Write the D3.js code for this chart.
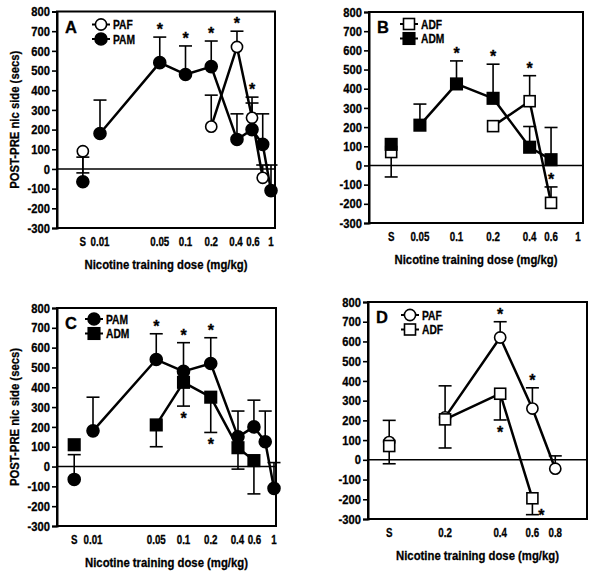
<!DOCTYPE html>
<html>
<head>
<meta charset="utf-8">
<script src="https://cdn.jsdelivr.net/npm/d3@7"></script>
<style>
  body { margin: 0; background: #fff; }
  text { font-family: "Liberation Sans", Arial, sans-serif; font-weight: bold; fill: #000; stroke: #000; stroke-width: 0.3; }
</style>
</head>
<body>
<svg id="fig" width="600" height="574"></svg>
<script>
// group means and SEM, "S" = saline
var pafDose = ["S", 0.2, 0.4, 0.6, 0.8];
var pafMean = [90, 215, 620, 260, -45];
var pafSem  = [110, 160, 80, 105, 65];

var pamDose = ["S", 0.01, 0.05, 0.1, 0.2, 0.4, 0.6, 0.8, 1];
var pamMean = [-65, 180, 540, 480, 520, 150, 200, 125, -110];
var pamSem  = [125, 170, 130, 145, 130, 130, 135, 155, 130];

var adfDose = ["S", 0.2, 0.4, 0.6];
var adfMean = [70, 205, 335, -195];
var adfSem  = [130, 145, 133, 83];

var admDose = ["S", 0.05, 0.1, 0.2, 0.4, 0.6];
var admMean = [110, 210, 425, 350, 95, 30];
var admSem  = [0, 110, 120, 178, 108, 168];

// which way the error bar is drawn in each panel (1 up, -1 down, 0 none)
var dirA_paf = [-1, 1, 1, 1, 1];
var dirA_pam = [1, 1, 1, 1, 1, 1, 1, 1, 1];
var dirB_adf = [-1, 0, 1, 1];
var dirB_adm = [0, 1, 1, 1, 1, 1];
var dirC_pam = [1, 1, 1, 1, 1, 1, 1, 1, 1];
var dirC_adm = [0, -1, -1, -1, -1, -1];
var dirD_paf = [-1, 1, 1, 1, 1];
var dirD_adf = [1, -1, -1, -1];

// significance stars
var starA_paf = [0, 0, "up", "up", 0];
var starA_pam = [0, 0, "up", "up", "up", 0, 0, 0, 0];
var starB_adf = [0, 0, "up", "up"];
var starB_adm = [0, 0, "up", "up", 0, 0];
var starC_pam = [0, 0, "up", "up", "up", 0, 0, 0, 0];
var starC_adm = [0, 0, "down", "down", 0, 0];
var starD_paf = [0, 0, "up", "up", 0];
var starD_adf = [0, 0, "down", "right"];

var ticksA = ["S", 0.01, 0.05, 0.1, 0.2, 0.4, 0.6, 1];
var ticksB = ["S", 0.05, 0.1, 0.2, 0.4, 0.6, 1];
var ticksD = ["S", 0.2, 0.4, 0.6, 0.8];
var yTicks = d3.range(-300, 801, 100);

var groups = {
  PAF: {dose: pafDose, mean: pafMean, sem: pafSem, shape: "circle", open: true},
  PAM: {dose: pamDose, mean: pamMean, sem: pamSem, shape: "circle", open: false},
  ADF: {dose: adfDose, mean: adfMean, sem: adfSem, shape: "square", open: true},
  ADM: {dose: admDose, mean: admMean, sem: admSem, shape: "square", open: false}
};

var panels = [
  {id: "A", box: [57, 275, 11.5, 228], xPix: [100, 271], saline: 0.0063, ticks: ticksA, yTitle: true,
   leg: [44, 13], series: [{g: "PAF", dir: dirA_paf, star: starA_paf}, {g: "PAM", dir: dirA_pam, star: starA_pam}]},
  {id: "B", box: [369, 583, 12, 223], xPix: [335, 578], saline: 0.029, ticks: ticksB, yTitle: false,
   leg: [40, 12], series: [{g: "ADF", dir: dirB_adf, star: starB_adf}, {g: "ADM", dir: dirB_adm, star: starB_adm}]},
  {id: "C", box: [57, 276, 308, 526], xPix: [93, 274], saline: 0.0062, ticks: ticksA, yTitle: true,
   leg: [37, 11], series: [{g: "PAM", dir: dirC_pam, star: starC_pam}, {g: "ADM", dir: dirC_adm, star: starC_adm}]},
  {id: "D", box: [368, 587, 302, 519], xPix: [207, 573], saline: 0.099, ticks: ticksD, yTitle: false,
   leg: [42, 13], series: [{g: "PAF", dir: dirD_paf, star: starD_paf}, {g: "ADF", dir: dirD_adf, star: starD_adf}]}
];

var svg = d3.select("#fig");

function condense(sel, f) {
  sel.each(function() {
    var w = this.getComputedTextLength();
    this.setAttribute("textLength", w * f);
    this.setAttribute("lengthAdjust", "spacingAndGlyphs");
  });
}

function marker(g, grp, cx, cy) {
  if (grp.shape === "circle") {
    g.append("circle").attr("cx", cx).attr("cy", cy).attr("r", grp.open ? 5.6 : 6)
      .attr("fill", grp.open ? "#fff" : "#000").attr("stroke", "#000").attr("stroke-width", 1.6);
  } else {
    var s = grp.open ? 11 : 11.5;
    g.append("rect").attr("x", cx - s / 2).attr("y", cy - s / 2).attr("width", s).attr("height", s)
      .attr("fill", grp.open ? "#fff" : "#000").attr("stroke", "#000").attr("stroke-width", 1.6);
  }
}

panels.forEach(function(p) {
  var left = p.box[0], right = p.box[1], top = p.box[2], bottom = p.box[3];
  var x = d3.scaleLog().domain([0.01, 1]).range(p.xPix);
  var y = d3.scaleLinear().domain([-300, 800]).range([bottom, top]);
  var xv = function(d) { return d === "S" ? x(p.saline) : x(d); };
  var g = svg.append("g");

  // frame and zero line
  g.append("rect").attr("x", left).attr("y", top).attr("width", right - left).attr("height", bottom - top)
    .attr("fill", "none").attr("stroke", "#000").attr("stroke-width", 2);
  g.append("line").attr("x1", left).attr("x2", right).attr("y1", y(0)).attr("y2", y(0))
    .attr("stroke", "#000").attr("stroke-width", 1.6);

  // y axis
  var ya = g.append("g").attr("transform", "translate(" + left + ",0)")
    .call(d3.axisLeft(y).tickValues(yTicks).tickSize(5).tickPadding(2).tickFormat(function(d) { return String(d); }));
  ya.select(".domain").attr("stroke-width", 2);
  ya.selectAll(".tick line").attr("stroke-width", 1.6);
  ya.selectAll("text").attr("font-size", 13).attr("font-family", null).call(condense, 0.86);

  // x tick labels (no tick marks); labels that crowd each other are pushed apart a little
  var lx = p.ticks.map(xv);
  var pos = lx.slice();
  for (var i = 0; i < pos.length - 1; i++) {
    var gap = lx[i + 1] - lx[i];
    if (gap < 17) { pos[i] -= (17 - gap) / 2; pos[i + 1] += (17 - gap) / 2; }
  }
  var xl = g.selectAll(".xl").data(p.ticks).enter().append("text")
    .attr("x", function(d, i) { return pos[i]; }).attr("y", bottom + 18)
    .attr("text-anchor", "middle").attr("font-size", 12.5)
    .text(function(d) { return d === "S" ? "S" : String(d); });
  xl.call(condense, 0.78);

  g.append("text").attr("x", (left + right) / 2).attr("y", bottom + 41).attr("text-anchor", "middle")
    .attr("font-size", 13.5).attr("textLength", 163).attr("lengthAdjust", "spacingAndGlyphs")
    .text("Nicotine training dose (mg/kg)");

  if (p.yTitle) {
    g.append("text").attr("transform", "translate(19," + ((top + bottom) / 2) + ") rotate(-90)")
      .attr("text-anchor", "middle").attr("font-size", 13.5).attr("textLength", 138)
      .attr("lengthAdjust", "spacingAndGlyphs").text("POST-PRE nic side (secs)");
  }

  g.append("text").attr("x", left + 8).attr("y", top + 21).attr("font-size", 16.5).text(p.id);

  // error bars and stars
  p.series.forEach(function(s) {
    var grp = groups[s.g];
    grp.dose.forEach(function(d, i) {
      var cx = xv(d), m = grp.mean[i];
      var end = m + s.dir[i] * grp.sem[i];
      if (s.dir[i] !== 0) {
        g.append("line").attr("x1", cx).attr("x2", cx).attr("y1", y(m)).attr("y2", y(end))
          .attr("stroke", "#000").attr("stroke-width", 1.6);
        g.append("line").attr("x1", cx - 6.5).attr("x2", cx + 6.5).attr("y1", y(end)).attr("y2", y(end))
          .attr("stroke", "#000").attr("stroke-width", 1.6);
      }
      var st = s.star[i];
      if (st) {
        var sx = cx, sy = y(end) - 2;
        if (st === "down") sy = y(end) + 18;
        if (st === "right") { sx = cx + 9; sy = y(end) + 6; }
        g.append("text").attr("x", sx).attr("y", sy).attr("text-anchor", "middle")
          .attr("font-size", 16).text("*");
      }
    });
  });

  // connecting lines (saline point stands alone)
  var line = d3.line().x(function(d) { return xv(d.dose); }).y(function(d) { return y(d.mean); });
  p.series.forEach(function(s) {
    var grp = groups[s.g];
    var pts = grp.dose.map(function(d, i) { return {dose: d, mean: grp.mean[i]}; })
      .filter(function(d) { return d.dose !== "S"; });
    g.append("path").attr("d", line(pts)).attr("fill", "none").attr("stroke", "#000")
      .attr("stroke-width", 2.5).attr("stroke-linejoin", "round");
  });

  // markers
  p.series.forEach(function(s) {
    var grp = groups[s.g];
    grp.dose.forEach(function(d, i) { marker(g, grp, xv(d), y(grp.mean[i])); });
  });

  // legend
  p.series.forEach(function(s, k) {
    var grp = groups[s.g];
    var mx = left + p.leg[0], my = top + p.leg[1] + k * 14.5;
    g.append("line").attr("x1", mx - 9).attr("x2", mx + 9).attr("y1", my).attr("y2", my)
      .attr("stroke", "#000").attr("stroke-width", 2);
    marker(g, grp, mx, my);
    g.append("text").attr("x", mx + 12).attr("y", my + 4.5).attr("font-size", 12.5).text(s.g)
      .call(condense, 0.82);
  });
});
</script>
</body>
</html>
